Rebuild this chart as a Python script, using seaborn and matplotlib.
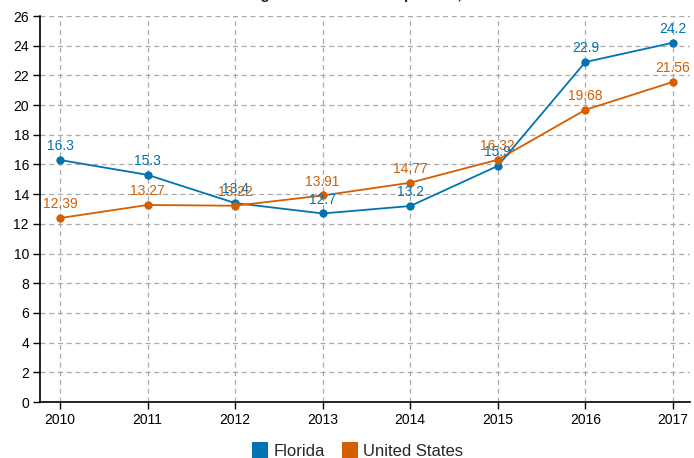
import matplotlib
matplotlib.use("Agg")
import matplotlib.pyplot as plt
import seaborn as sns
import pandas as pd
from matplotlib.lines import Line2D

years = [2010, 2011, 2012, 2013, 2014, 2015, 2016, 2017]
florida = [16.3, 15.3, 13.4, 12.7, 13.2, 15.9, 22.9, 24.2]
united_states = [12.39, 13.27, 13.22, 13.91, 14.77, 16.32, 19.68, 21.56]
series_names = ["Florida", "United States"]
colors = ["#0173b2", "#d55e00"]
title = "Drug Overdose Deaths per 100,000"

df = pd.DataFrame({
    "year": years * 2,
    "value": florida + united_states,
    "series": ["Florida"] * len(years) + ["United States"] * len(years),
})

sns.set_theme(style="white")
plt.rcParams["font.family"] = ["Liberation Sans", "DejaVu Sans"]

fig = plt.figure(figsize=(6.94, 4.58), dpi=100)
ax = fig.add_axes([40 / 694, 1 - 402 / 458, 650 / 694, 386 / 458])

sns.lineplot(data=df, x="year", y="value", hue="series", palette=colors,
             marker="o", markersize=6, markeredgewidth=0, linewidth=1.3,
             legend=False, ax=ax)

for name, vals, c in zip(series_names, [florida, united_states], colors):
    for x, y in zip(years, vals):
        ax.annotate(f"{y:g}", (x, y), xytext=(0, 5), textcoords="offset points",
                    ha="center", va="bottom", color=c, fontsize=10)

ax.set_xlim(2010 - 0.228, 2017 + 0.195)
ax.set_ylim(0, 26)
ax.set_xticks(years)
ax.set_xticklabels([str(y) for y in years])
ax.set_yticks(range(0, 27, 2))
ax.set_xlabel("")
ax.set_ylabel("")
ax.grid(True, color="#aaaaaa", linestyle=(0, (4, 3)), linewidth=0.9)
ax.set_axisbelow(True)
for s in ["top", "right"]:
    ax.spines[s].set_visible(False)
for s in ["left", "bottom"]:
    ax.spines[s].set_color("black")
    ax.spines[s].set_linewidth(1.2)
ax.tick_params(axis="both", which="both", length=5, width=1, color="black",
               labelsize=10, labelcolor="black", bottom=True, left=True, pad=3)

handles = [Line2D([0], [0], marker="s", linestyle="", markersize=11,
                  markerfacecolor=c, markeredgewidth=0) for c in colors]
fig.legend(handles, series_names, loc="center", bbox_to_anchor=(0.515, 1 - 451 / 458),
           ncol=2, frameon=False, fontsize=12, handletextpad=0.3, columnspacing=1.0,
           handlelength=1.0)

fig.text(0.52, 1 + 1.5 / 458, title, ha="center", va="baseline",
         fontsize=11, fontweight="bold")

fig.savefig("out.png", dpi=100)
